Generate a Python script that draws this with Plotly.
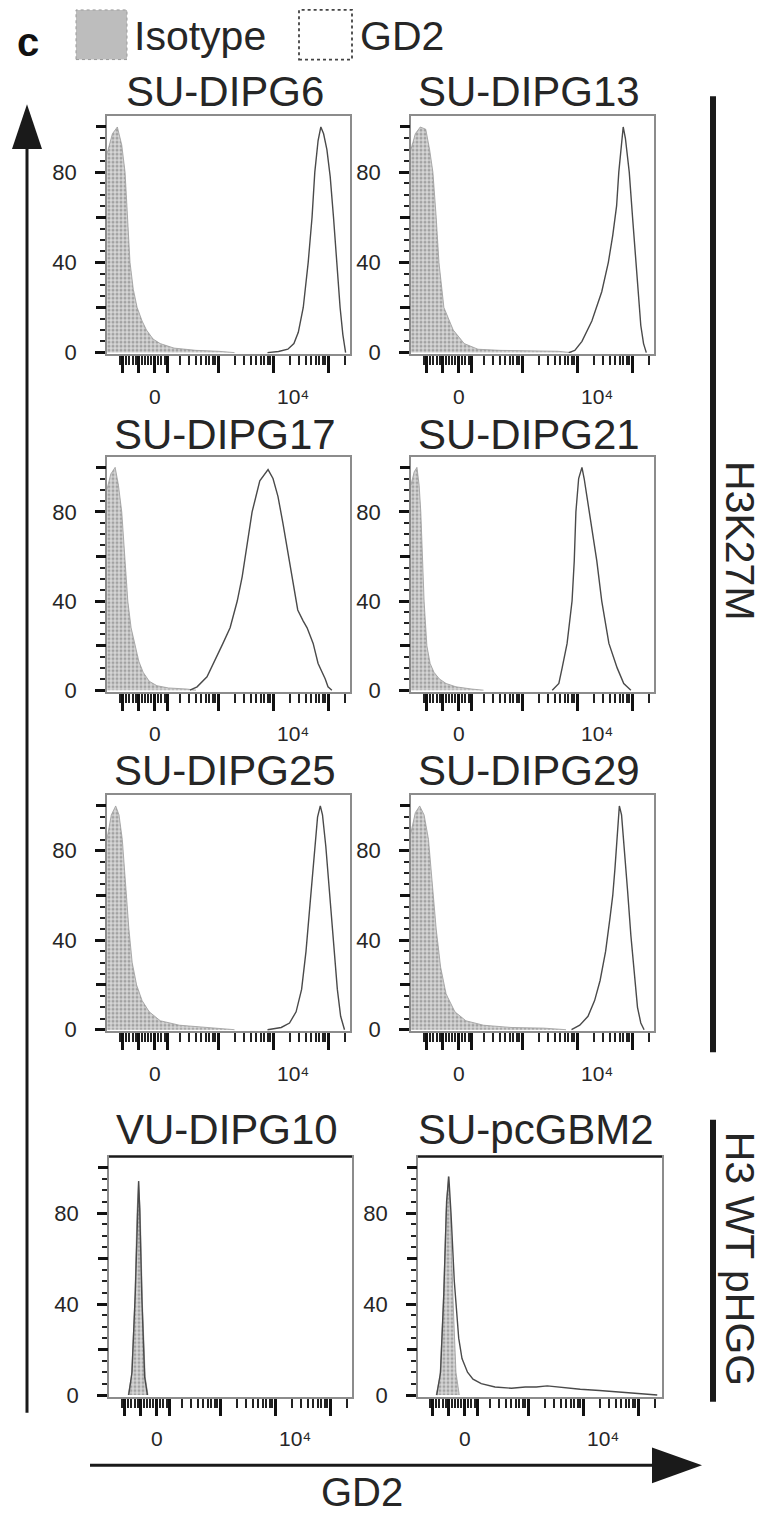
import math
import plotly.graph_objects as go

W, H = 766, 1522

# ---------------- data (x in display units of the biexponential GD2 axis: 3=10^3, 4=10^4, 5=10^5) -------------
titles = ["SU-DIPG6", "SU-DIPG13", "SU-DIPG17", "SU-DIPG21",
          "SU-DIPG25", "SU-DIPG29", "VU-DIPG10", "SU-pcGBM2"]

iso_x_dipg6 = [0.98, 1.08, 1.17, 1.25, 1.31, 1.36, 1.40, 1.46, 1.53, 1.62, 1.70, 1.82, 1.95, 2.2, 2.6, 3.0, 3.3]
iso_y_dipg6 = [88, 97, 100, 92, 80, 60, 40, 28, 20, 14, 10, 6, 4, 2, 1, 0.6, 0]
gd2_x_dipg6 = [3.9, 4.1, 4.27, 4.38, 4.46, 4.55, 4.64, 4.71, 4.76, 4.82, 4.87, 4.92, 4.98, 5.04, 5.10, 5.16, 5.22, 5.27, 5.32]
gd2_y_dipg6 = [0, 0.5, 1.5, 4, 9, 20, 40, 60, 80, 94, 100, 97, 90, 78, 60, 40, 20, 8, 0]

iso_x_dipg13 = [0.98, 1.06, 1.15, 1.25, 1.32, 1.38, 1.44, 1.49, 1.58, 1.75, 1.95, 2.2, 2.6, 3.0, 3.4, 3.65, 3.9]
iso_y_dipg13 = [90, 97, 100, 99, 90, 80, 60, 40, 20, 10, 4, 1.5, 1, 0.8, 0.8, 0.6, 0]
gd2_x_dipg13 = [3.85, 3.96, 4.09, 4.27, 4.45, 4.57, 4.65, 4.72, 4.76, 4.80, 4.84, 4.88, 4.95, 5.01, 5.07, 5.12, 5.16, 5.21, 5.26]
gd2_y_dipg13 = [0, 1, 5, 14, 27, 40, 52, 65, 80, 92, 100, 95, 80, 60, 40, 25, 12, 4, 0]

iso_x_dipg17 = [0.98, 1.05, 1.13, 1.19, 1.25, 1.31, 1.36, 1.42, 1.49, 1.56, 1.64, 1.75, 1.89, 2.1, 2.44, 2.6]
iso_y_dipg17 = [90, 97, 100, 92, 80, 60, 40, 28, 20, 13, 8, 4, 2, 1, 0.5, 0]
gd2_x_dipg17 = [2.49, 2.62, 2.80, 2.91, 3.09, 3.22, 3.35, 3.44, 3.53, 3.62, 3.76, 3.91, 4.0, 4.09, 4.18,
                4.27, 4.35, 4.45, 4.55, 4.62, 4.73, 4.82, 4.95, 5.0, 5.07]
gd2_y_dipg17 = [0, 1.5, 6, 12, 21, 28, 40, 51, 65, 80, 94, 99, 95, 87, 75,
                62, 51, 36, 31, 28, 21, 12, 5, 1.5, 0]

iso_x_dipg21 = [0.98, 1.04, 1.09, 1.13, 1.16, 1.19, 1.22, 1.27, 1.33, 1.40, 1.50, 1.62, 1.80, 2.09, 2.3]
iso_y_dipg21 = [92, 98, 100, 92, 80, 60, 40, 20, 12, 8, 5, 3, 1.5, 0.5, 0]
gd2_x_dipg21 = [3.55, 3.67, 3.73, 3.82, 3.91, 3.95, 3.98, 4.03, 4.09, 4.13, 4.18, 4.27, 4.36, 4.45, 4.58, 4.73, 4.85, 4.98]
gd2_y_dipg21 = [0, 3, 10, 21, 40, 58, 80, 95, 100, 95, 87, 72, 58, 40, 21, 10, 3, 0]

iso_x_dipg25 = [0.98, 1.06, 1.14, 1.20, 1.26, 1.32, 1.38, 1.44, 1.52, 1.62, 1.75, 1.95, 2.3, 2.8, 3.3]
iso_y_dipg25 = [85, 96, 100, 96, 85, 65, 45, 30, 20, 13, 8, 4, 2, 1, 0]
gd2_x_dipg25 = [3.9, 4.15, 4.30, 4.42, 4.52, 4.60, 4.68, 4.75, 4.81, 4.86, 4.90, 4.96, 5.03, 5.10, 5.17, 5.23, 5.30]
gd2_y_dipg25 = [0, 1, 3, 8, 18, 35, 58, 80, 95, 100, 96, 82, 60, 38, 18, 6, 0]

iso_x_dipg29 = [0.98, 1.06, 1.14, 1.22, 1.30, 1.37, 1.44, 1.52, 1.62, 1.78, 1.98, 2.3, 2.8, 3.4, 3.8]
iso_y_dipg29 = [88, 97, 100, 96, 85, 65, 45, 28, 16, 8, 4, 2, 1, 0.7, 0]
gd2_x_dipg29 = [3.9, 4.05, 4.20, 4.32, 4.42, 4.52, 4.60, 4.65, 4.69, 4.73, 4.77, 4.81, 4.86, 4.92, 4.98, 5.04, 5.10, 5.16, 5.22]
gd2_y_dipg29 = [0, 2, 6, 13, 22, 35, 50, 60, 72, 88, 100, 96, 82, 62, 42, 24, 10, 3, 0]

iso_x_vudipg10 = [1.33, 1.39, 1.45, 1.49, 1.52, 1.55, 1.59, 1.64, 1.69]
iso_y_vudipg10 = [0, 8, 40, 80, 94, 80, 40, 8, 0]
gd2_x_vudipg10 = [1.34, 1.40, 1.46, 1.50, 1.52, 1.54, 1.58, 1.63, 1.68]
gd2_y_vudipg10 = [0, 10, 45, 85, 94, 82, 42, 8, 0]

iso_x_pcgbm2 = [1.33, 1.40, 1.46, 1.51, 1.55, 1.59, 1.64, 1.69, 1.75]
iso_y_pcgbm2 = [0, 8, 40, 80, 96, 80, 40, 10, 0]
gd2_x_pcgbm2 = [1.34, 1.41, 1.47, 1.52, 1.56, 1.60, 1.66, 1.71, 1.74, 1.80, 1.90, 2.0, 2.15, 2.4,
                2.7, 2.95, 3.15, 3.35, 3.55, 3.75, 3.95, 4.3, 4.6, 4.9, 5.16, 5.35]
gd2_y_pcgbm2 = [0, 10, 45, 85, 96, 80, 50, 35, 25, 16, 10, 7, 5, 3.5,
                3, 3.5, 3.5, 4, 3.5, 3, 2.5, 2, 1.5, 1, 0.5, 0]

iso_x = [iso_x_dipg6, iso_x_dipg13, iso_x_dipg17, iso_x_dipg21, iso_x_dipg25, iso_x_dipg29, iso_x_vudipg10, iso_x_pcgbm2]
iso_y = [iso_y_dipg6, iso_y_dipg13, iso_y_dipg17, iso_y_dipg21, iso_y_dipg25, iso_y_dipg29, iso_y_vudipg10, iso_y_pcgbm2]
gd2_x = [gd2_x_dipg6, gd2_x_dipg13, gd2_x_dipg17, gd2_x_dipg21, gd2_x_dipg25, gd2_x_dipg29, gd2_x_vudipg10, gd2_x_pcgbm2]
gd2_y = [gd2_y_dipg6, gd2_y_dipg13, gd2_y_dipg17, gd2_y_dipg21, gd2_y_dipg25, gd2_y_dipg29, gd2_y_vudipg10, gd2_y_pcgbm2]

# tick positions / labels
y_label_vals = [0, 40, 80]
y_label_text = ["0", "40", "80"]
y_unlabelled_major = [20, 60, 100]
y_minor = [v for v in range(0, 101, 5) if v % 20]
x_major = [1.27, 1.55, 1.85, 2.09, 3, 4, 5]
x_minor_linear = [1.21, 1.33, 1.39, 1.45, 1.50, 1.61, 1.67, 1.73, 1.79, 1.91, 1.97, 2.03]
x_minor_log = [k + math.log10(m) for k in (2, 3, 4) for m in range(2, 10)] + [5 + math.log10(2)]
x_label_pos = [1.85, 4.36]
x_label_text = ["0", "10\u2074"]

group_labels = ["H3K27M", "H3 WT pHGG"]

# ---------------- layout geometry (pixels) ----------------
rows_px = [(117, 357), (460, 697), (801, 1039), (1165, 1407)]
title_gap = [25, 22, 25, 27]
cols_px = [(107, 350), (411, 654)]
cols_px_row4 = [(109, 352), (418, 662)]


def fx(px):
    return px / W


def fy(px):
    return 1 - px / H


FONT = "Liberation Sans, Arial, sans-serif"
TXT = "#262626"
YR = [-0.8, 104.8]

fig = go.Figure()
annotations = []
shapes = []
npan = len(titles)

for i, name in enumerate(titles):
    r, c = divmod(i, 2)
    top, bot = rows_px[r]
    L, R = (cols_px_row4 if r == 3 else cols_px)[c]
    off = 110 if (r == 3 and c == 1) else 111
    xr = [3 - off / 55.0, 3 + (R - L - off) / 55.0]
    n = "" if i == 0 else str(i + 1)
    xa, ya = "x" + n, "y" + n
    ya2 = "y" + str(npan + i + 1)

    fig.add_trace(go.Scatter(
        x=iso_x[i], y=iso_y[i], xaxis=xa, yaxis=ya, mode="lines",
        line=dict(color="#9a9a9a", width=0.8), fill="tozeroy",
        fillcolor="#c4c4c4",
        fillpattern=dict(shape=".", fgcolor="#6e6e6e", bgcolor="#d6d6d6", size=4, solidity=0.45),
        showlegend=False, hoverinfo="skip"))
    fig.add_trace(go.Scatter(
        x=gd2_x[i], y=gd2_y[i], xaxis=xa, yaxis=ya, mode="lines",
        line=dict(color="#4a4a4a", width=1.4),
        showlegend=False, hoverinfo="skip"))
    # invisible copy to carry the overlay axis holding the unlabelled major ticks
    fig.add_trace(go.Scatter(
        x=gd2_x[i][:1], y=gd2_y[i][:1], xaxis=xa, yaxis=ya2, mode="markers",
        marker=dict(opacity=0, size=1), showlegend=False, hoverinfo="skip"))

    frame_col = "#8c8c8c"
    fig.update_layout(**{
        ("xaxis" + n): dict(
            domain=[fx(L), fx(R)], range=xr, anchor=ya,
            showgrid=False, zeroline=False, showline=True, mirror=True,
            linecolor=frame_col, linewidth=1.5,
            tickmode="array", tickvals=x_major, showticklabels=False,
            ticks="outside", ticklen=17, tickwidth=2.6, tickcolor="#111",
            minor=dict(tickvals=x_minor_linear + x_minor_log, ticks="outside",
                       ticklen=9, tickwidth=1.6, tickcolor="#222"),
            fixedrange=True),
        ("yaxis" + n): dict(
            domain=[fy(bot), fy(top)], range=YR, anchor=xa,
            showgrid=False, zeroline=False, showline=True, mirror=True,
            linecolor=frame_col, linewidth=1.5,
            tickmode="array", tickvals=y_label_vals, ticktext=y_label_text,
            ticks="outside", ticklen=10, tickwidth=2.6, tickcolor="#111",
            ticklabelstandoff=14,
            tickfont=dict(family=FONT, size=22, color=TXT),
            minor=dict(tickvals=y_minor, ticks="outside", ticklen=5,
                       tickwidth=1.5, tickcolor="#222"),
            fixedrange=True),
        ("yaxis" + str(npan + i + 1)): dict(
            overlaying=ya, anchor=xa, side="left", range=YR,
            showgrid=False, zeroline=False, showline=False,
            tickmode="array", tickvals=y_unlabelled_major, showticklabels=False,
            ticks="outside", ticklen=10, tickwidth=2.6, tickcolor="#111",
            fixedrange=True),
    })

    if r == 3:
        shapes.append(dict(type="line", xref="paper", yref="paper",
                           x0=fx(L), x1=fx(R), y0=fy(top), y1=fy(top),
                           line=dict(color="#1a1a1a", width=2.2)))

    # panel title
    annotations.append(dict(text=name, x=fx((L + R) / 2 - 4), y=fy(top - title_gap[r]),
                            xref="paper", yref="paper", showarrow=False,
                            xanchor="center", yanchor="middle",
                            font=dict(family=FONT, size=42, color=TXT)))
    # x tick labels (0, 10^4)
    for pos, txt in zip(x_label_pos, x_label_text):
        annotations.append(dict(text=txt, x=pos, xref=xa, y=fy(bot + 42), yref="paper",
                                showarrow=False, xanchor="center", yanchor="middle",
                                font=dict(family=FONT, size=21, color=TXT)))

# legend
annotations.append(dict(text="<b>c</b>", x=fx(28), y=fy(42), xref="paper", yref="paper",
                        showarrow=False, xanchor="center", yanchor="middle",
                        font=dict(family=FONT, size=40, color="#111")))
shapes.append(dict(type="rect", xref="paper", yref="paper",
                   x0=fx(76), x1=fx(127), y0=fy(60), y1=fy(10),
                   fillcolor="#bdbdbd", line=dict(color="#9a9a9a", width=1, dash="dot")))
annotations.append(dict(text="Isotype", x=fx(132), y=fy(36), xref="paper", yref="paper",
                        showarrow=False, xanchor="left", yanchor="middle",
                        font=dict(family=FONT, size=41, color=TXT)))
shapes.append(dict(type="rect", xref="paper", yref="paper",
                   x0=fx(299), x1=fx(352), y0=fy(60), y1=fy(10),
                   fillcolor="white", line=dict(color="#444", width=1.8, dash="dot")))
annotations.append(dict(text="GD2", x=fx(358), y=fy(36), xref="paper", yref="paper",
                        showarrow=False, xanchor="left", yanchor="middle",
                        font=dict(family=FONT, size=41, color=TXT)))

# left vertical arrow (y axis: % of max)
shapes.append(dict(type="line", xref="paper", yref="paper",
                   x0=fx(27), x1=fx(27), y0=fy(1423), y1=fy(140),
                   line=dict(color="#1a1a1a", width=3)))
shapes.append(dict(type="path", xref="paper", yref="paper",
                   path=f"M {fx(27)},{fy(105)} L {fx(12)},{fy(150)} L {fx(42)},{fy(150)} Z",
                   fillcolor="#1a1a1a", line=dict(width=0)))
# bottom horizontal arrow (GD2)
shapes.append(dict(type="line", xref="paper", yref="paper",
                   x0=fx(90), x1=fx(660), y0=fy(1476), y1=fy(1476),
                   line=dict(color="#1a1a1a", width=3)))
shapes.append(dict(type="path", xref="paper", yref="paper",
                   path=f"M {fx(702)},{fy(1476)} L {fx(652)},{fy(1458)} L {fx(652)},{fy(1494)} Z",
                   fillcolor="#1a1a1a", line=dict(width=0)))
annotations.append(dict(text="GD2", x=fx(362), y=fy(1503), xref="paper", yref="paper",
                        showarrow=False, xanchor="center", yanchor="middle",
                        font=dict(family=FONT, size=40, color=TXT)))

# group bars on the right
group_spans = [(97, 1060), (1128, 1412)]
group_text_centers = [545, 1268]
for (y0, y1), yc, lab in zip(group_spans, group_text_centers, group_labels):
    shapes.append(dict(type="line", xref="paper", yref="paper",
                       x0=fx(713), x1=fx(713), y0=fy(y0), y1=fy(y1),
                       line=dict(color="#1a1a1a", width=6)))
    annotations.append(dict(text=lab, x=fx(740), y=fy(yc), xref="paper", yref="paper",
                            showarrow=False, textangle=90, xanchor="center", yanchor="middle",
                            font=dict(family=FONT, size=41, color=TXT)))

fig.update_layout(width=W, height=H, margin=dict(l=0, r=0, t=0, b=0),
                  paper_bgcolor="white", plot_bgcolor="white",
                  annotations=annotations, shapes=shapes, showlegend=False)

fig.write_html("out.html")
